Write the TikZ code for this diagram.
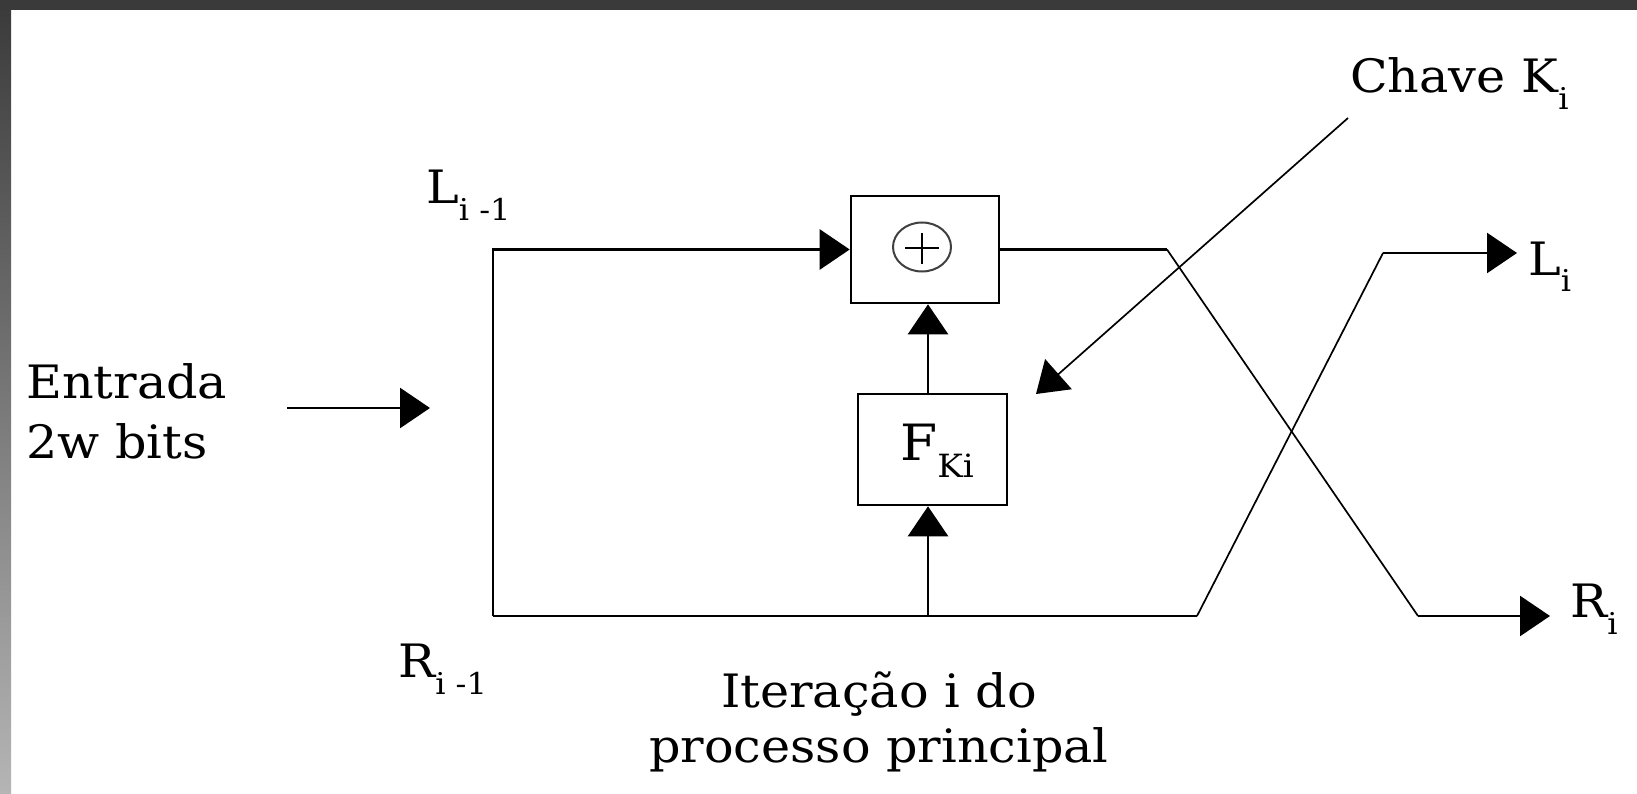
\documentclass[tikz,border=0pt]{standalone}
\usepackage{fontspec}
\setmainfont[FakeStretch=1.07]{DejaVu Serif}
\usetikzlibrary{arrows.meta}
\definecolor{barc}{HTML}{3A3A3A}
\definecolor{barlow}{HTML}{B5B5B5}
\newcommand{\sbs}[1]{\raisebox{-17pt}{\fontsize{30}{30}\selectfont #1}}
\newcommand{\sbk}[1]{\raisebox{-17pt}{\fontsize{32}{32}\selectfont #1}}
\begin{document}
\begin{tikzpicture}[x=1pt,y=-1pt,
  wire/.style={line width=2.6pt},
  slim/.style={line width=1.7pt},
  tipped/.style={-{Triangle[length=30pt,width=40pt]}},
  lbl/.style={inner sep=0pt, font=\fontsize{46}{60}\selectfont},
  blockbox/.style={draw, line width=2.6pt, inner sep=0pt}
]
\useasboundingbox (0,0) rectangle (1637,794);
\fill[white] (0,0) rectangle (1637,794);
\shade[top color=barc, bottom color=barlow] (0,0) rectangle (11,794);
\fill[barc] (0,0) rectangle (1637,10);

% blocks
\node[blockbox, minimum width=148pt, minimum height=107pt] (xor) at (925,249.5) {};
\node[blockbox, minimum width=149pt, minimum height=111pt] (f) at (932.5,449.5) {};
\draw[line width=2pt, black!75] (922,247) ellipse [x radius=29pt, y radius=24.5pt];
\draw[line width=2.6pt] (905,248) -- (939,248) (922,233) -- (922,264);
\node[inner sep=0pt, anchor=base west, font=\fontsize{50}{50}\selectfont] (fl) at (900,460) {F\sbk{Ki}};

% coordinates
\coordinate (bl) at (493,616);
\coordinate (tl) at (493,249.5);
\coordinate (mid) at (928,616);
\coordinate (c1) at (1167,249.5);
\coordinate (c2) at (1418,616);
\coordinate (rout) at (1550,616);
\coordinate (c3) at (1197,616);
\coordinate (c4) at (1383,253);
\coordinate (lout) at (1517,253);
\coordinate (keyfrom) at (1348,118);
\coordinate (keyto) at (1036,394);
\coordinate (ein1) at (287,408);
\coordinate (ein2) at (430,408);

% connectors
\draw[wire, tipped] (bl) -- (tl) -- (xor.west);
\draw[wire] (bl) -- (c3);
\draw[wire, tipped] (mid) -- (mid |- f.south);
\draw[wire, tipped] (mid |- f.north) -- (mid |- xor.south);
\draw[wire] (xor.east) -- (c1);
\draw[slim] (c1) -- (c2);
\draw[wire, tipped] (c2) -- (rout);
\draw[slim] (c3) -- (c4);
\draw[wire, tipped] (c4) -- (lout);
\draw[slim, tipped] (keyfrom) -- (keyto);
\draw[wire, tipped] (ein1) -- (ein2);

% labels
\node[lbl, anchor=base west] (lprev) at (426,204) {L\sbs{i -1}};
\node[lbl, anchor=base west] (rprev) at (398,677) {R\sbs{i -1}};
\node[lbl, anchor=base west] (ent1) at (26,398) {Entrada};
\node[lbl, anchor=base west] (ent2) at (26,458) {2w bits};
\node[lbl, anchor=base west] (chave) at (1350,93) {Chave K\sbs{i}};
\node[lbl, anchor=base west] (li) at (1528,275) {L\sbs{i}};
\node[lbl, anchor=base west] (ri) at (1570,617) {R\sbs{i}};
\node[lbl, anchor=base] (it1) at (879,707) {Iteração i do};
\node[lbl, anchor=base] (it2) at (879,762) {processo principal};
\end{tikzpicture}
\end{document}
